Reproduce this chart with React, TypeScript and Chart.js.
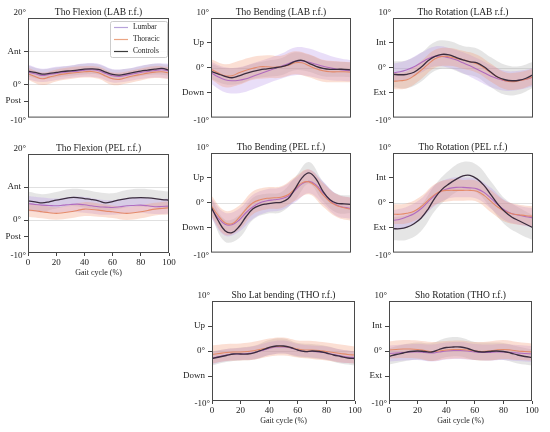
import React, { useEffect, useRef } from "react";
import { Chart, registerables } from "chart.js";
Chart.register(...registerables);

const SERIF = '"Liberation Serif", "DejaVu Serif", serif';

// Gait cycle positions (%)
const GAIT_X = [0, 5, 10, 15, 20, 25, 30, 35, 40, 45, 50, 55, 60, 65, 70, 75, 80, 85, 90, 95, 100];
const BAND_X = [0, 10, 20, 30, 40, 50, 60, 70, 80, 90, 100];
const X_TICKS = [0, 20, 40, 60, 80, 100];
const SERIES_NAMES = ["Lumbar", "Thoracic", "Controls"];

// Tho Flexion (LAB r.f.)
const FLEX_LAB_CTRL = [4.0, 3.6, 3.1, 3.3, 3.6, 3.9, 4.1, 4.3, 4.6, 4.7, 4.5, 3.7, 3.0, 2.8, 3.2, 3.6, 4.0, 4.3, 4.6, 4.8, 4.3];
const FLEX_LAB_LUMB = [3.7, 3.2, 2.7, 3.0, 3.3, 3.6, 3.8, 4.0, 4.3, 4.4, 4.1, 3.3, 2.6, 2.4, 2.8, 3.2, 3.6, 3.9, 4.2, 4.4, 4.0];
const FLEX_LAB_THOR = [3.2, 2.4, 1.7, 2.2, 2.7, 3.1, 3.4, 3.6, 3.8, 3.9, 3.5, 2.5, 1.7, 1.5, 2.1, 2.6, 3.0, 3.4, 3.7, 3.8, 3.4];
const FLEX_LAB_CTRL_SD = [1.6, 1.5, 1.5, 1.5, 1.6, 1.5, 1.5, 1.5, 1.5, 1.6, 1.6];
const FLEX_LAB_LUMB_SD = [2.2, 2.0, 2.0, 1.9, 2.0, 2.1, 2.0, 1.9, 2.0, 2.1, 2.2];
const FLEX_LAB_THOR_SD = [1.8, 1.9, 1.8, 1.8, 1.7, 1.8, 1.9, 1.8, 1.8, 1.8, 1.8];

// Tho Bending (LAB r.f.)
const BEND_LAB_CTRL = [-0.7, -1.2, -1.7, -2.0, -1.6, -1.1, -0.7, -0.4, -0.2, 0.0, 0.2, 0.6, 1.3, 1.5, 0.9, 0.3, -0.1, -0.3, -0.3, -0.3, -0.4];
const BEND_LAB_LUMB = [-1.0, -1.8, -2.4, -2.6, -2.5, -2.2, -1.7, -1.2, -0.7, -0.2, 0.3, 0.8, 1.3, 1.4, 1.1, 0.7, 0.3, 0.0, -0.3, -0.5, -0.6];
const BEND_LAB_THOR = [-0.3, -1.0, -1.6, -1.6, -1.0, -0.5, -0.1, 0.2, 0.2, 0.1, 0.2, 0.5, 1.0, 1.0, 0.4, -0.2, -0.6, -0.8, -0.8, -0.8, -0.9];
const BEND_LAB_CTRL_SD = [1.5, 1.6, 1.6, 1.5, 1.6, 1.7, 1.8, 1.7, 1.6, 1.5, 1.5];
const BEND_LAB_LUMB_SD = [2.2, 2.5, 2.6, 2.6, 2.5, 2.5, 2.8, 2.8, 2.6, 2.3, 2.1];
const BEND_LAB_THOR_SD = [2.0, 2.3, 2.4, 2.3, 2.3, 2.2, 2.3, 2.3, 2.2, 2.1, 2.0];

// Tho Rotation (LAB r.f.)
const ROT_LAB_CTRL = [-1.3, -1.4, -1.3, -0.9, 0.1, 1.4, 2.3, 2.7, 2.6, 2.1, 1.6, 1.2, 1.0, 0.2, -0.9, -1.9, -2.4, -2.6, -2.5, -2.1, -1.4];
const ROT_LAB_LUMB = [-1.0, -0.8, -0.4, 0.2, 1.0, 1.8, 2.3, 2.3, 2.0, 1.6, 1.0, 0.4, -0.3, -1.0, -1.7, -2.2, -2.6, -2.7, -2.5, -2.3, -1.9];
const ROT_LAB_THOR = [-2.7, -2.6, -2.4, -1.6, -0.5, 0.7, 1.8, 2.3, 2.2, 1.9, 1.6, 1.2, 0.8, 0.0, -1.0, -1.9, -2.6, -2.8, -2.6, -2.3, -1.8];
const ROT_LAB_CTRL_SD = [2.6, 2.8, 2.9, 2.9, 2.8, 2.8, 2.9, 3.0, 3.0, 2.8, 2.6];
const ROT_LAB_LUMB_SD = [1.8, 1.9, 2.0, 2.0, 2.0, 2.1, 2.2, 2.2, 2.0, 1.9, 1.8];
const ROT_LAB_THOR_SD = [1.6, 1.7, 1.8, 1.8, 1.8, 1.8, 1.8, 1.8, 1.7, 1.7, 1.6];

// Tho Flexion (PEL r.f.)
const FLEX_PEL_CTRL = [5.8, 5.5, 5.2, 5.5, 6.0, 6.4, 6.8, 6.8, 6.5, 6.2, 5.8, 5.2, 5.6, 6.1, 6.5, 6.7, 6.8, 6.7, 6.5, 6.2, 6.0];
const FLEX_PEL_LUMB = [5.0, 4.7, 4.5, 4.4, 4.3, 4.5, 4.7, 4.8, 4.6, 4.3, 4.0, 3.9, 3.8, 4.0, 4.3, 4.4, 4.5, 4.3, 4.0, 4.1, 4.2];
const FLEX_PEL_THOR = [3.0, 2.8, 2.5, 2.2, 2.0, 2.2, 2.5, 2.9, 3.3, 3.2, 3.0, 2.7, 2.5, 2.2, 2.0, 2.2, 2.5, 2.9, 3.3, 3.5, 3.7];
const FLEX_PEL_CTRL_SD = [2.8, 2.6, 2.5, 2.6, 2.7, 2.6, 2.5, 2.6, 2.7, 2.6, 2.6];
const FLEX_PEL_LUMB_SD = [2.3, 2.3, 2.2, 2.3, 2.4, 2.3, 2.2, 2.3, 2.3, 2.2, 2.3];
const FLEX_PEL_THOR_SD = [2.0, 2.0, 1.9, 2.0, 2.1, 2.0, 1.9, 2.0, 2.0, 1.9, 2.0];

// Tho Bending (PEL r.f.)
const BEND_PEL_CTRL = [-0.8, -3.5, -5.6, -6.0, -4.8, -2.8, -1.2, -0.5, -0.2, 0.0, 0.1, 0.8, 2.8, 5.0, 6.0, 4.8, 2.3, 0.6, -0.1, -0.2, -0.3];
const BEND_PEL_LUMB = [-1.0, -3.0, -4.3, -4.4, -3.5, -2.0, -0.8, 0.0, 0.4, 0.6, 0.8, 1.3, 2.5, 3.8, 4.3, 3.6, 2.0, 0.5, -0.5, -0.9, -1.1];
const BEND_PEL_THOR = [-0.5, -2.5, -4.0, -4.2, -3.0, -1.3, 0.0, 0.6, 0.9, 1.0, 1.1, 1.6, 2.8, 4.0, 4.2, 3.3, 1.6, 0.2, -0.6, -1.0, -1.3];
const BEND_PEL_CTRL_SD = [1.8, 2.2, 2.3, 2.2, 2.0, 2.0, 2.3, 2.2, 2.0, 1.9, 1.8];
const BEND_PEL_LUMB_SD = [2.0, 2.3, 2.3, 2.4, 2.3, 2.3, 2.4, 2.4, 2.3, 2.2, 2.1];
const BEND_PEL_THOR_SD = [2.0, 2.4, 2.4, 2.3, 2.2, 2.2, 2.4, 2.5, 2.4, 2.3, 2.3];

// Tho Rotation (PEL r.f.)
const ROT_PEL_CTRL = [-5.2, -5.2, -4.9, -4.2, -3.1, -1.3, 1.0, 2.7, 3.8, 4.7, 5.4, 5.5, 4.8, 3.5, 1.6, -0.3, -1.8, -2.9, -3.6, -4.3, -5.0];
const ROT_PEL_LUMB = [-3.5, -3.3, -2.8, -2.2, -1.2, 0.2, 1.5, 2.4, 2.9, 3.1, 3.1, 3.0, 2.8, 2.1, 0.9, -0.4, -1.5, -2.2, -2.5, -2.8, -3.0];
const ROT_PEL_THOR = [-2.3, -2.3, -2.1, -1.7, -0.8, 0.5, 1.7, 2.4, 2.5, 2.5, 2.5, 2.5, 2.3, 1.5, 0.3, -0.9, -1.7, -2.2, -2.4, -2.6, -2.7];
const ROT_PEL_CTRL_SD = [2.3, 2.5, 2.6, 2.6, 2.7, 2.8, 2.8, 2.7, 2.6, 2.6, 2.5];
const ROT_PEL_LUMB_SD = [2.0, 2.0, 2.0, 2.1, 2.0, 2.0, 2.0, 2.1, 2.0, 1.9, 1.9];
const ROT_PEL_THOR_SD = [2.0, 2.0, 2.1, 2.1, 2.2, 2.1, 2.1, 2.2, 2.1, 2.0, 2.0];

// Sho Lat bending (THO r.f.)
const SBEND_THO_CTRL = [-1.5, -1.2, -0.9, -0.6, -0.6, -0.6, -0.3, 0.2, 0.7, 1.0, 1.0, 0.7, 0.2, -0.1, 0.0, -0.1, -0.4, -0.8, -1.1, -1.4, -1.5];
const SBEND_THO_LUMB = [-1.4, -1.1, -0.8, -0.6, -0.6, -0.5, -0.3, 0.1, 0.5, 0.8, 0.8, 0.6, 0.2, -0.1, -0.1, -0.2, -0.4, -0.7, -1.0, -1.2, -1.3];
const SBEND_THO_THOR = [-0.7, -0.5, -0.3, -0.2, -0.2, -0.1, 0.1, 0.4, 0.7, 0.9, 0.9, 0.7, 0.4, 0.2, 0.2, 0.1, -0.1, -0.3, -0.5, -0.7, -0.8];
const SBEND_THO_CTRL_SD = [1.4, 1.3, 1.3, 1.4, 1.5, 1.5, 1.4, 1.4, 1.4, 1.4, 1.4];
const SBEND_THO_LUMB_SD = [1.2, 1.2, 1.2, 1.3, 1.3, 1.3, 1.2, 1.2, 1.3, 1.3, 1.2];
const SBEND_THO_THOR_SD = [1.8, 1.7, 1.7, 1.8, 1.8, 1.8, 1.7, 1.8, 1.8, 1.8, 1.7];

// Sho Rotation (THO r.f.)
const SROT_THO_CTRL = [-1.1, -0.7, -0.4, -0.1, 0.0, -0.1, -0.2, 0.3, 0.7, 0.8, 0.8, 0.5, 0.0, -0.2, -0.1, 0.0, -0.1, -0.4, -0.8, -1.1, -1.3];
const SROT_THO_LUMB = [-0.5, -0.4, -0.3, -0.2, -0.2, -0.3, -0.4, -0.2, 0.0, 0.1, 0.1, 0.0, -0.2, -0.3, -0.3, -0.2, -0.2, -0.3, -0.4, -0.5, -0.6];
const SROT_THO_THOR = [0.2, 0.3, 0.4, 0.4, 0.3, 0.1, -0.1, 0.0, 0.2, 0.3, 0.3, 0.2, 0.0, -0.1, 0.0, 0.2, 0.3, 0.2, 0.0, -0.1, -0.2];
const SROT_THO_CTRL_SD = [1.6, 1.7, 1.7, 1.8, 1.9, 1.9, 1.8, 1.8, 1.7, 1.7, 1.6];
const SROT_THO_LUMB_SD = [1.6, 1.6, 1.6, 1.7, 1.7, 1.7, 1.6, 1.6, 1.6, 1.6, 1.6];
const SROT_THO_THOR_SD = [1.7, 1.8, 1.8, 1.9, 1.8, 1.8, 1.8, 1.9, 1.9, 1.8, 1.7];

const FLEX_TICKS = [10, 0, -5];
const FLEX_LABELS = ["Ant", "0°", "Post"];
const BEND_TICKS = [5, 0, -5];
const BEND_LABELS = ["Up", "0°", "Down"];
const ROT_TICKS = [5, 0, -5];
const ROT_LABELS = ["Int", "0°", "Ext"];

const COLORS = {
  ctrlLine: "#3b2d3f",
  ctrlBand: "rgba(175,175,175,0.32)",
  lumbLine: "rgba(172,100,190,0.92)",
  lumbBand: "rgba(182,145,232,0.30)",
  thorLine: "rgba(228,135,100,0.95)",
  thorBand: "rgba(242,150,112,0.30)",
  legendLumb: "#b7a3da",
  legendThor: "#eba583",
  legendCtrl: "#3b3b3b",
};

type Spec = {
  title: string;
  kind: "flex" | "bend" | "rot";
  l: number; t: number; r: number; b: number;
  showX: boolean;
  legend?: boolean;
  ctrl: number[]; lumb: number[]; thor: number[];
  ctrlSd: number[]; lumbSd: number[]; thorSd: number[];
};

const SPECS: Spec[] = [
  { title: "Tho Flexion (LAB r.f.)", kind: "flex", l: 28, t: 18, r: 169, b: 118, showX: false, legend: true,
    ctrl: FLEX_LAB_CTRL, lumb: FLEX_LAB_LUMB, thor: FLEX_LAB_THOR, ctrlSd: FLEX_LAB_CTRL_SD, lumbSd: FLEX_LAB_LUMB_SD, thorSd: FLEX_LAB_THOR_SD },
  { title: "Tho Bending (LAB r.f.)", kind: "bend", l: 211, t: 18, r: 351, b: 118, showX: false,
    ctrl: BEND_LAB_CTRL, lumb: BEND_LAB_LUMB, thor: BEND_LAB_THOR, ctrlSd: BEND_LAB_CTRL_SD, lumbSd: BEND_LAB_LUMB_SD, thorSd: BEND_LAB_THOR_SD },
  { title: "Tho Rotation (LAB r.f.)", kind: "rot", l: 393, t: 18, r: 533, b: 118, showX: false,
    ctrl: ROT_LAB_CTRL, lumb: ROT_LAB_LUMB, thor: ROT_LAB_THOR, ctrlSd: ROT_LAB_CTRL_SD, lumbSd: ROT_LAB_LUMB_SD, thorSd: ROT_LAB_THOR_SD },
  { title: "Tho Flexion (PEL r.f.)", kind: "flex", l: 28, t: 154, r: 169, b: 253, showX: true,
    ctrl: FLEX_PEL_CTRL, lumb: FLEX_PEL_LUMB, thor: FLEX_PEL_THOR, ctrlSd: FLEX_PEL_CTRL_SD, lumbSd: FLEX_PEL_LUMB_SD, thorSd: FLEX_PEL_THOR_SD },
  { title: "Tho Bending (PEL r.f.)", kind: "bend", l: 211, t: 153, r: 351, b: 253, showX: false,
    ctrl: BEND_PEL_CTRL, lumb: BEND_PEL_LUMB, thor: BEND_PEL_THOR, ctrlSd: BEND_PEL_CTRL_SD, lumbSd: BEND_PEL_LUMB_SD, thorSd: BEND_PEL_THOR_SD },
  { title: "Tho Rotation (PEL r.f.)", kind: "rot", l: 393, t: 153, r: 533, b: 253, showX: false,
    ctrl: ROT_PEL_CTRL, lumb: ROT_PEL_LUMB, thor: ROT_PEL_THOR, ctrlSd: ROT_PEL_CTRL_SD, lumbSd: ROT_PEL_LUMB_SD, thorSd: ROT_PEL_THOR_SD },
  { title: "Sho Lat bending (THO r.f.)", kind: "bend", l: 212, t: 301, r: 355, b: 401, showX: true,
    ctrl: SBEND_THO_CTRL, lumb: SBEND_THO_LUMB, thor: SBEND_THO_THOR, ctrlSd: SBEND_THO_CTRL_SD, lumbSd: SBEND_THO_LUMB_SD, thorSd: SBEND_THO_THOR_SD },
  { title: "Sho Rotation (THO r.f.)", kind: "rot", l: 389, t: 301, r: 532, b: 401, showX: true,
    ctrl: SROT_THO_CTRL, lumb: SROT_THO_LUMB, thor: SROT_THO_THOR, ctrlSd: SROT_THO_CTRL_SD, lumbSd: SROT_THO_LUMB_SD, thorSd: SROT_THO_THOR_SD },
];

const Y_W = 34;
const PAD_T = 14;
const PAD_R = 8;

function Panel({ spec }: { spec: Spec }) {
  const ref = useRef<HTMLCanvasElement | null>(null);
  const w = spec.r - spec.l + Y_W + PAD_R;
  const h = spec.b - spec.t + PAD_T + (spec.showX ? 25 : 8);

  useEffect(() => {
    const canvas = ref.current;
    if (!canvas) return;
    const isFlex = spec.kind === "flex";
    const yMin = -10;
    const yMax = isFlex ? 20 : 10;
    const tickVals = isFlex ? FLEX_TICKS : spec.kind === "bend" ? BEND_TICKS : ROT_TICKS;
    const tickLabels = isFlex ? FLEX_LABELS : spec.kind === "bend" ? BEND_LABELS : ROT_LABELS;
    const refLines = isFlex ? [10, 0] : [0];

    const series = [
      { mean: spec.ctrl, sd: spec.ctrlSd, line: COLORS.ctrlLine, band: COLORS.ctrlBand, lw: 1.3, bandOrder: 30, lineOrder: 1 },
      { mean: spec.lumb, sd: spec.lumbSd, line: COLORS.lumbLine, band: COLORS.lumbBand, lw: 1.1, bandOrder: 20, lineOrder: 3 },
      { mean: spec.thor, sd: spec.thorSd, line: COLORS.thorLine, band: COLORS.thorBand, lw: 1.1, bandOrder: 10, lineOrder: 2 },
    ];
    const datasets: any[] = [];
    series.forEach((s) => {
      datasets.push({
        data: BAND_X.map((x, i) => ({ x, y: s.mean[i * 2] - s.sd[i] })),
        borderColor: "transparent", borderWidth: 0, pointRadius: 0, fill: false, tension: 0.4, order: s.bandOrder,
      });
      datasets.push({
        data: BAND_X.map((x, i) => ({ x, y: s.mean[i * 2] + s.sd[i] })),
        borderColor: "transparent", borderWidth: 0, pointRadius: 0, fill: "-1", backgroundColor: s.band, tension: 0.4, order: s.bandOrder,
      });
    });
    series.forEach((s) => {
      datasets.push({
        data: GAIT_X.map((x, i) => ({ x, y: s.mean[i] })),
        borderColor: s.line, borderWidth: s.lw, pointRadius: 0, fill: false, tension: 0.4, order: s.lineOrder,
      });
    });

    const deco = {
      id: "deco",
      beforeDatasetsDraw(chart: any) {
        const { ctx, chartArea } = chart;
        const ys = chart.scales.y;
        ctx.save();
        ctx.strokeStyle = "rgba(0,0,0,0.12)";
        ctx.lineWidth = 1;
        refLines.forEach((v) => {
          const py = Math.round(ys.getPixelForValue(v)) + 0.5;
          ctx.beginPath();
          ctx.moveTo(chartArea.left, py);
          ctx.lineTo(chartArea.right, py);
          ctx.stroke();
        });
        ctx.restore();
      },
      afterDraw(chart: any) {
        const { ctx, chartArea } = chart;
        const { left, top, right, bottom } = chartArea;
        ctx.save();
        ctx.strokeStyle = "#4a4a4a";
        ctx.lineWidth = 1;
        ctx.strokeRect(left + 0.5, top + 0.5, right - left - 1, bottom - top - 1);
        ctx.fillStyle = "#222";
        ctx.font = `9.5px ${SERIF}`;
        ctx.textAlign = "center";
        ctx.textBaseline = "middle";
        ctx.fillText(spec.title, (left + right) / 2, top - 6);
        ctx.font = `9px ${SERIF}`;
        ctx.textAlign = "right";
        ctx.fillText(`${yMax}°`, left - 2, top - 5);
        ctx.fillText(`${yMin}°`, left - 2, bottom + 3);
        if (spec.legend) {
          const bx = right - 59, by = top + 3, bw = 57, bh = 36;
          ctx.fillStyle = "rgba(255,255,255,0.85)";
          ctx.strokeStyle = "#cccccc";
          ctx.beginPath();
          ctx.roundRect(bx + 0.5, by + 0.5, bw, bh, 2);
          ctx.fill();
          ctx.stroke();
          const cols = [COLORS.legendLumb, COLORS.legendThor, COLORS.legendCtrl];
          ctx.font = `7.5px ${SERIF}`;
          ctx.textAlign = "left";
          SERIES_NAMES.forEach((name, i) => {
            const yy = by + 6 + i * 12;
            ctx.strokeStyle = cols[i];
            ctx.lineWidth = 1.2;
            ctx.beginPath();
            ctx.moveTo(bx + 4, yy + 0.5);
            ctx.lineTo(bx + 18, yy + 0.5);
            ctx.stroke();
            ctx.fillStyle = "#222";
            ctx.fillText(name, bx + 23, yy + 0.5);
          });
        }
        ctx.restore();
      },
    };

    const xScale: any = {
      type: "linear",
      min: 0,
      max: 100,
      display: spec.showX,
      afterBuildTicks: (s: any) => { s.ticks = X_TICKS.map((v) => ({ value: v })); },
      ticks: { font: { family: SERIF, size: 9 }, color: "#222", padding: 1, maxRotation: 0, autoSkip: false },
      grid: { display: true, drawOnChartArea: false, drawTicks: true, tickLength: 3, color: "#444" },
      border: { display: false },
      title: { display: true, text: "Gait cycle (%)", font: { family: SERIF, size: 8 }, color: "#222", padding: { top: 0, bottom: 0 } },
    };
    if (spec.showX) xScale.afterFit = (s: any) => { s.height = 25; };

    const chart = new Chart(canvas, {
      type: "line",
      data: { datasets },
      plugins: [deco],
      options: {
        animation: false,
        responsive: false,
        devicePixelRatio: 1,
        layout: { padding: { top: PAD_T, right: PAD_R, left: 0, bottom: spec.showX ? 0 : 8 } },
        plugins: { legend: { display: false }, tooltip: { enabled: false }, title: { display: false } },
        scales: {
          x: xScale,
          y: {
            type: "linear",
            min: yMin,
            max: yMax,
            afterFit: (s: any) => { s.width = Y_W; },
            afterBuildTicks: (s: any) => { s.ticks = tickVals.map((v) => ({ value: v })); },
            ticks: { font: { family: SERIF, size: 9 }, color: "#222", padding: 3, callback: (_v: any, i: number) => tickLabels[i] },
            grid: { display: true, drawOnChartArea: false, drawTicks: true, tickLength: 4, color: "#444" },
            border: { display: false },
          },
        },
      },
    } as any);
    return () => chart.destroy();
  }, [spec]);

  return (
    <canvas
      ref={ref}
      width={w}
      height={h}
      style={{ position: "absolute", left: spec.l - Y_W, top: spec.t - PAD_T, width: w, height: h }}
    />
  );
}

export default function App() {
  return (
    <div style={{ position: "fixed", left: 0, top: 0, width: 550, height: 432, background: "#fff", overflow: "hidden" }}>
      {SPECS.map((s) => (
        <Panel key={s.title} spec={s} />
      ))}
    </div>
  );
}
